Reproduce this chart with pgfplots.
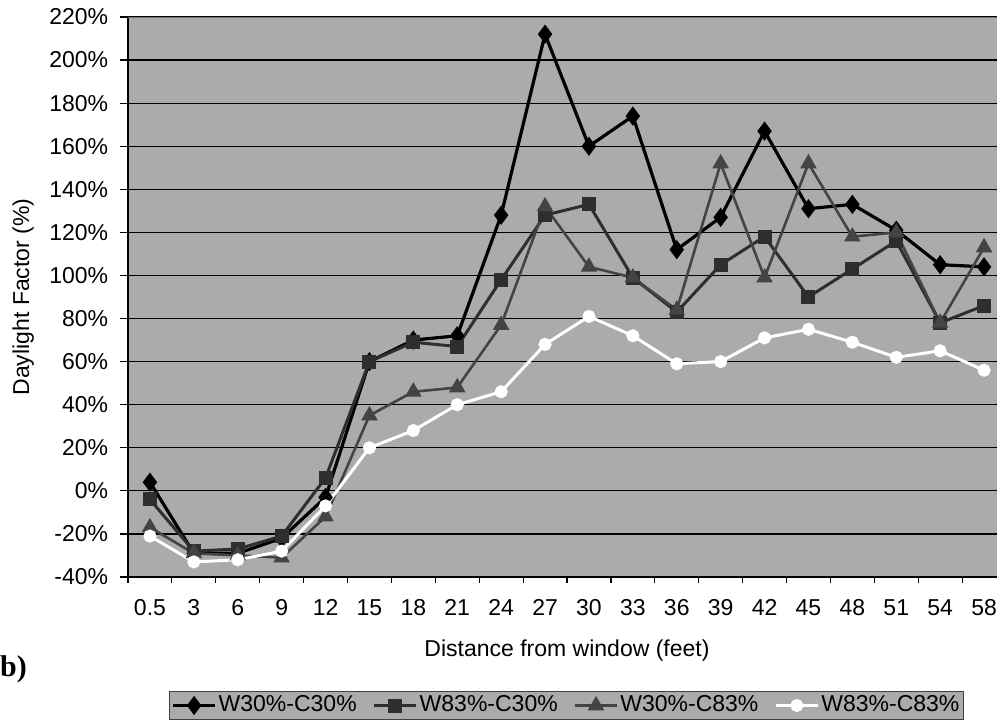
\documentclass[border=0pt]{standalone}
\usepackage{pgfplots}
\pgfplotsset{compat=1.18}
\usepackage{fontspec}
\setmainfont{Liberation Sans}
\newfontfamily\serifb{Liberation Serif}
\definecolor{bg}{HTML}{ABABAB}
\definecolor{sA}{HTML}{000000}
\definecolor{sB}{HTML}{2E2E2E}
\definecolor{sC}{HTML}{444444}
\begin{document}
\fontsize{23}{27}\selectfont
\begin{tikzpicture}[x=1pt,y=1pt]
\useasboundingbox (0,0) rectangle (997,725);
\begin{axis}[
  at={(128pt,148pt)}, anchor=south west, scale only axis,
  width=878pt, height=560pt,
  xmin=-0.5, xmax=19.5, ymin=-40, ymax=220,
  axis background/.style={fill=bg},
  axis x line*=bottom, axis y line*=left,
  axis line style={black, line width=1.5pt, -},
  xtick={0,...,19},
  xticklabels={0.5,3,6,9,12,15,18,21,24,27,30,33,36,39,42,45,48,51,54,58},
  minor xtick={-0.5,0.5,...,19.5},
  major x tick style={draw=none},
  ytick={-40,-20,...,220},
  yticklabels={-40\%,-20\%,0\%,20\%,40\%,60\%,80\%,100\%,120\%,140\%,160\%,180\%,200\%,220\%},
  tick align=outside,
  major tick length=8pt, minor tick length=6pt,
  tick style={black, line width=1.2pt},
  ymajorgrids, major grid style={black, line width=1.2pt},
  xticklabel style={yshift=-7pt},
  yticklabel style={xshift=-4pt},
  xlabel={Distance from window (feet)},
  ylabel={Daylight Factor (\%)},
  xlabel style={yshift=-8pt},
  ylabel style={yshift=0pt},
  legend style={at={(0.4994,-0.2295)}, anchor=center, legend columns=4,
    fill=bg, draw=black!75, line width=1.2pt, inner sep=2pt,
    font=\fontsize{23}{27}\selectfont,
    /tikz/every even column/.append style={column sep=14pt}},
  legend cell align=left,
  legend image code/.code={\draw[mark repeat=2,mark phase=2,#1] plot coordinates {(0pt,0pt) (21pt,0pt) (42pt,0pt)};},
  after end axis/.code={\draw[black!55, line width=0.8pt] (rel axis cs:0,1) -- (rel axis cs:1,1);},
]
\addplot[sA, line width=3.2pt, mark=diamond*, mark size=7pt, mark options={solid, fill=sA, draw=sA}]
 coordinates {(0,4) (1,-29) (2,-29) (3,-22) (4,-3) (5,60) (6,70) (7,72) (8,128) (9,212) (10,160) (11,174) (12,112) (13,127) (14,167) (15,131) (16,133) (17,121) (18,105) (19,104)};
\addlegendentry{W30\%-C30\%}
\addplot[sB, line width=3pt, mark=square*, mark size=5.5pt, mark options={solid, fill=sB, draw=sB}]
 coordinates {(0,-4) (1,-28) (2,-27) (3,-21) (4,6) (5,60) (6,69) (7,67) (8,98) (9,128) (10,133) (11,99) (12,83) (13,105) (14,118) (15,90) (16,103) (17,116) (18,78) (19,86)};
\addlegendentry{W83\%-C30\%}
\addplot[sC, line width=2.6pt, mark=triangle*, mark size=7pt, mark options={solid, fill=sC, draw=sC}]
 coordinates {(0,-17) (1,-29) (2,-30) (3,-31) (4,-12) (5,35) (6,46) (7,48) (8,77) (9,132) (10,104) (11,99) (12,84) (13,152) (14,99) (15,152) (16,118) (17,120) (18,78) (19,113)};
\addlegendentry{W30\%-C83\%}
\addplot[white, line width=3pt, mark=*, mark size=5pt, mark options={solid, fill=white, draw=white}]
 coordinates {(0,-21) (1,-33) (2,-32) (3,-28) (4,-7) (5,20) (6,28) (7,40) (8,46) (9,68) (10,81) (11,72) (12,59) (13,60) (14,71) (15,75) (16,69) (17,62) (18,65) (19,56)};
\addlegendentry{W83\%-C83\%}
\end{axis}
\node[anchor=west, inner sep=0pt, font=\serifb\bfseries\fontsize{30}{34}\selectfont] at (0,56) {b)};
\end{tikzpicture}
\end{document}
